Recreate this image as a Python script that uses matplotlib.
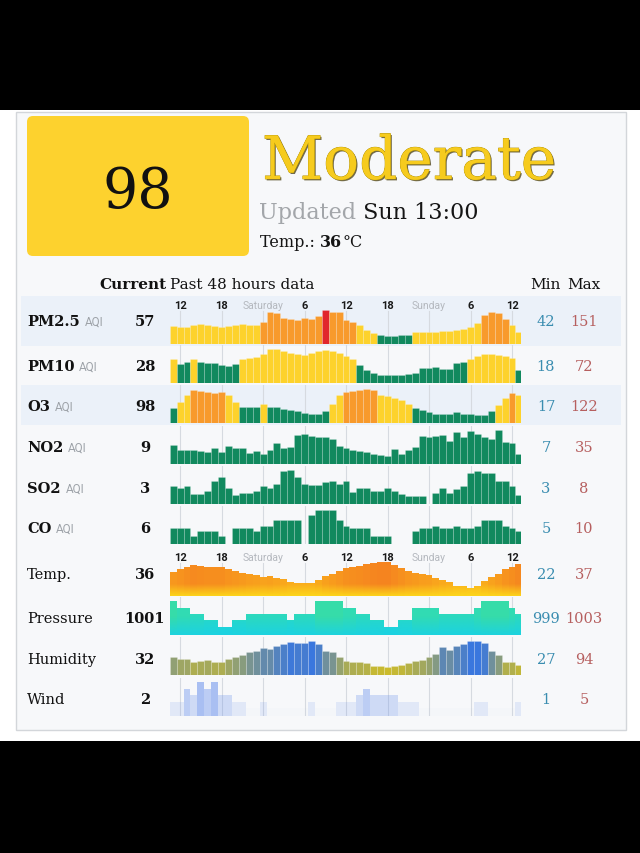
import numpy as np
import matplotlib
matplotlib.use('Agg')
import matplotlib.pyplot as plt
from matplotlib.patches import FancyBboxPatch, Rectangle
from matplotlib.path import Path
from matplotlib.colors import to_rgb
import matplotlib.patheffects as pe

# ---------------- data ----------------
HOURS = np.arange(-1, 50)          # hourly bars, hours relative to Friday 12:00
TICK_HOURS = [0, 6, 12, 18, 24, 30, 36, 42, 48]
TICK_LABELS = ['12', '18', 'Saturday', '6', '12', '18', 'Sunday', '6', '12']

ROW_NAMES = ['PM2.5', 'PM10', 'O3', 'NO2', 'SO2', 'CO', 'Temp.', 'Pressure', 'Humidity', 'Wind']
IS_AQI = [True, True, True, True, True, True, False, False, False, False]
CURRENT = ['57', '28', '98', '9', '3', '6', '36', '1001', '32', '2']
MINS = [42, 18, 17, 7, 3, 5, 22, 999, 27, 1]
MAXS = [151, 72, 122, 35, 8, 10, 37, 1003, 94, 5]

AQI_NOW = '98'
LEVEL = 'Moderate'
UPDATED = 'Sun 13:00'
TEMP_NOW = '36'

nan = np.nan
pm25 = [84, 78, 81, 88, 91, 88, 84, 81, 84, 88, 91, 88, 87, 102, 141, 137, 119, 112, 109, 116,
        113, 127, 151, 141, 141, 109, 102, 88, 67, 53, 45, 42, 42, 45, 46, 58, 60, 60, 60, 63,
        64, 67, 71, 81, 95, 130, 141, 137, 113, 88, 58]
pm10 = [52, 41, 46, 52, 46, 42, 42, 39, 37, 41, 52, 53, 55, 62, 72, 71, 67, 64, 62, 60,
        63, 68, 70, 67, 63, 58, 52, 39, 28, 22, 19, 18, 18, 19, 20, 23, 33, 33, 35, 30,
        30, 42, 44, 52, 58, 62, 62, 60, 58, 53, 28]
o3 = [46, 69, 97, 117, 114, 109, 106, 109, 97, 69, 49, 49, 49, 60, 50, 49, 43, 39, 32, 25,
      20, 20, 32, 63, 97, 110, 114, 119, 122, 117, 97, 93, 87, 76, 63, 46, 36, 29, 22, 20,
      22, 29, 22, 20, 17, 19, 33, 56, 87, 106, 98]
no2 = [19, 13, 14, 14, 12, 11, 16, 11, 18, 16, 16, 10, 12, 9, 13, 21, 16, 17, 30, 31,
       29, 28, 27, 25, 18, 16, 13, 12, 11, 9, 8, 7, 15, 9, 14, 17, 29, 27, 29, 30,
       23, 33, 27, 34, 31, 28, 25, 35, 22, 21, 9]
so2 = [5.0, 4.5, 5.0, 3.4, 3.4, 4.0, 5.9, 6.6, 4.5, 3.1, 3.5, 3.5, 4.0, 5.0, 4.5, 5.4, 7.9, 8.0, 6.6, 5.4,
       5.2, 5.2, 5.6, 5.9, 5.4, 5.9, 3.8, 4.5, 4.5, 3.9, 3.9, 4.5, 4.0, 3.4, 3.0, 3.0, 3.0, nan, 3.5, 4.5,
       3.5, 4.4, 5.0, 7.4, 7.9, 7.4, 7.4, 5.9, 5.9, 5.0, 3.2]
co = [6.5, 6.5, 6.5, 5, 6, 6, 6, 5, nan, 6.5, 6.5, 6.5, 6, 7, 7, 8, 8, 8, 8, nan,
      9, 10, 10, 10, 8, 7, 6.5, 6.5, 6.5, 5, 5, 5, nan, nan, nan, 6, 6.5, 6.5, 7, 6.5,
      6.5, 7, 6.5, 6.5, 7, 8, 8, 8, 7, 6.5, 6]
temp = [31.4, 32.8, 34.1, 35.3, 34.7, 34.1, 34.1, 34.1, 32.8, 31.8, 30.8, 29.9, 29.3, 28.3, 28.8, 27.9, 27.0, 25.6, 25.1, 25.1,
        25.1, 26.4, 28.9, 30.3, 31.8, 33.4, 34.1, 34.7, 35.7, 36.5, 37, 37, 35.3, 33.4, 31.8, 30.8, 29.9, 29.6, 27.9, 26.4,
        25.6, 23.3, 23.2, 22.2, 23.2, 26.0, 28.3, 30.3, 32.8, 34.1, 35.8]
pressure = [1003, 1002, 1002, 1001, 1001, 1000, 1000, 999, 999, 1000, 1000, 1001, 1001, 1001, 1001, 1001, 1001, 1000, 1001, 1001,
            1001, 1003, 1003, 1003, 1003, 1002, 1002, 1001, 1001, 1000, 1000, 999, 999, 1000, 1000, 1002, 1002, 1002, 1002, 1001,
            1001, 1001, 1001, 1001, 1002, 1003, 1003, 1003, 1003, 1002, 1001]
humidity = [54, 48, 48, 41, 43, 45, 41, 41, 48, 54, 58, 65, 69, 75, 74, 82, 86, 92, 89, 89,
            94, 86, 69, 65, 52, 43, 41, 39, 37, 30, 29, 27, 30, 32, 37, 43, 46, 52, 60, 78,
            72, 80, 86, 94, 94, 89, 69, 58, 39, 39, 32]
wind = [2, 2, 4, 3, 5, 4, 5, 3, 3, 2, 2, 1, 1, 2, 1, 1, 1, 1, 1, 1,
        2, 1, 1, 1, 2, 2, 2, 3, 4, 3, 3, 3, 3, 2, 2, 2, 1, 1, 1, 1,
        1, 1, 1, 1, 2, 2, 1, 1, 1, 1, 2]
SERIES = [pm25, pm10, o3, no2, so2, co, temp, pressure, humidity, wind]

# ---------------- layout / style ----------------
W, H = 640, 854
SERIF = 'DejaVu Serif'
SANS = ['Roboto', 'DejaVu Sans']
BASELINES = [345, 384, 424, 465, 505, 545, 597, 636, 676, 717]
LABEL_Y = [321, 366, 406, 447, 488, 528, 574, 618, 659, 699]
X0, X1 = 169, 521
XLIM = (-1.6, 49.3)
ROW_H = 38

fig = plt.figure(figsize=(W / 100, H / 100), dpi=100, facecolor='black')
base = fig.add_axes([0, 0, 1, 1])
base.set_xlim(0, W)
base.set_ylim(H, 0)
base.axis('off')
base.add_patch(Rectangle((0, 111), W, 631, fc='white', ec='none', zorder=0))
base.add_patch(Rectangle((16, 113), 610, 618, fc='#f7f8fa', ec='#d3d6da', lw=1, zorder=0.1))
for k in (0, 2):
    top = BASELINES[k] - (48 if k == 0 else 38)
    base.add_patch(Rectangle((21, top), 600, BASELINES[k] + 2 - top, fc='#ebf1f9', ec='none', zorder=0.2))

# header
base.add_patch(FancyBboxPatch((27, 117), 222, 140, boxstyle='round,pad=0,rounding_size=6',
                              fc='#fdd22e', ec='none', zorder=1))
base.text(138, 208, AQI_NOW, family=SERIF, fontsize=40, color='#111111', ha='center', va='baseline', zorder=2)
base.text(262, 180, LEVEL, family=SERIF, fontsize=43, color='#f6cb1e', ha='left', va='baseline', zorder=2,
          path_effects=[pe.withSimplePatchShadow(offset=(1.0, -1.0), shadow_rgbFace='#3b3000', alpha=0.7),
                        pe.Stroke(linewidth=0.5, foreground='#a88a00'), pe.Normal()])
t_up = base.text(259, 219, 'Updated', family=SERIF, fontsize=16, color='#a3a6aa', ha='left', va='baseline', zorder=2)
base.annotate(' ' + UPDATED, xy=(1, 0), xycoords=t_up, family=SERIF, fontsize=16, color='#151515',
              ha='left', va='bottom', zorder=2)
t_t = base.text(260, 247, 'Temp.: ', family=SERIF, fontsize=11.5, color='#151515', ha='left', va='baseline', zorder=2)
t_v = base.annotate(TEMP_NOW, xy=(1, 0), xycoords=t_t, family=SERIF, fontsize=11.5, weight='bold',
                    color='#151515', ha='left', va='bottom', zorder=2)
base.annotate('°C', xy=(1, 0), xycoords=t_v, family=SERIF, fontsize=11.5, color='#151515',
              ha='left', va='bottom', zorder=2)

# column headers
base.text(167, 284, 'Current', family=SERIF, fontsize=11, weight='bold', color='#111111',
          ha='right', va='center_baseline', zorder=2)
base.text(170, 284, 'Past 48 hours data', family=SERIF, fontsize=11, color='#111111',
          ha='left', va='center_baseline', zorder=2)
base.text(545, 284, 'Min', family=SERIF, fontsize=11, color='#111111', ha='center', va='center_baseline', zorder=2)
base.text(584, 284, 'Max', family=SERIF, fontsize=11, color='#111111', ha='center', va='center_baseline', zorder=2)


def aqi_color(v):
    if v <= 50:
        return '#11895e'
    if v <= 100:
        return '#fdd22c'
    if v <= 150:
        return '#f89a2c'
    return '#e1262d'


def mix(c1, c2, f):
    a, b = np.array(to_rgb(c1)), np.array(to_rgb(c2))
    return tuple(a + (b - a) * float(np.clip(f, 0, 1)))


def bottom_gradient(ax, bars, color, fade_frac, lo, hi, strength=0.9):
    paths = [b.get_path().transformed(b.get_patch_transform()) for b in bars]
    comp = Path.make_compound_path(*paths)
    n = 100
    img = np.zeros((n, 1, 4))
    img[..., :3] = to_rgb(color)
    yy = np.linspace(0, 1, n)
    img[:, 0, 3] = strength * np.clip(1 - yy / fade_frac, 0, 1)
    im = ax.imshow(img, extent=(XLIM[0], XLIM[1], lo, hi), origin='lower', aspect='auto',
                   interpolation='bilinear', zorder=3)
    im.set_clip_path(comp, ax.transData)
    ax.set_xlim(*XLIM)
    ax.set_ylim(lo, hi)


row_axes = []
for k, vals in enumerate(SERIES):
    b = BASELINES[k]
    ax = fig.add_axes([X0 / W, 1 - b / H, (X1 - X0) / W, ROW_H / H])
    ax.patch.set_alpha(0)
    ax.axis('off')
    vmin, vmax = MINS[k], MAXS[k]
    lo = vmin - (vmax - vmin) * 8 / 26
    hi = lo + (vmax - lo) * ROW_H / 34
    ax.set_xlim(*XLIM)
    ax.set_ylim(lo, hi)
    top_frac = 0.88 if k in (0, 6) else 1.0
    for t in TICK_HOURS:
        ax.axvline(t, ymax=top_frac, color='#d6dae0', lw=0.8, zorder=0.5)
    v = np.asarray(vals, float)
    m = ~np.isnan(v)
    x = HOURS[m]
    vv = v[m]
    f = (vv - vmin) / (vmax - vmin)
    name = ROW_NAMES[k]
    if IS_AQI[k]:
        cols = [aqi_color(q) for q in vv]
        bars = ax.bar(x, vv - lo, bottom=lo, width=1.0, color=cols, edgecolor=(1, 1, 1, 0.28),
                      linewidth=0.4, zorder=2)
    elif name == 'Temp.':
        cols = [mix('#fbb81b', '#f5841f', q) for q in f]
        bars = ax.bar(x, vv - lo, bottom=lo, width=1.0, color=cols, linewidth=0, zorder=2)
        bottom_gradient(ax, bars, '#fdd81b', 0.32, lo, hi, 0.95)
    elif name == 'Pressure':
        cols = [mix('#22d6d2', '#36dca9', q) for q in f]
        bars = ax.bar(x, vv - lo, bottom=lo, width=1.0, color=cols, linewidth=0, zorder=2)
        bottom_gradient(ax, bars, '#1bd2e4', 0.5, lo, hi, 0.9)
    elif name == 'Humidity':
        cols = [mix('#cbbb2c', '#3a77de', q) for q in f]
        bars = ax.bar(x, vv - lo, bottom=lo, width=1.0, color=cols, edgecolor=(1, 1, 1, 0.3),
                      linewidth=0.4, zorder=2)
    else:  # wind
        cols = [(*to_rgb('#6c93ec'), 0.02 + 0.135 * (q - 1)) for q in vv]
        bars = ax.bar(x, vv - lo, bottom=lo, width=1.0, color=cols, linewidth=0, zorder=2)
    row_axes.append(ax)

    # row texts
    y = LABEL_Y[k]
    lab = base.text(27, y, name, family=SERIF, fontsize=10.5, weight='bold' if IS_AQI[k] else 'normal',
                    color='#111111', ha='left', va='center_baseline', zorder=2)
    if IS_AQI[k]:
        base.annotate('AQI', xy=(1, 0), xycoords=lab, xytext=(3.5, 0.6), textcoords='offset points',
                      family=SANS, fontsize=8.5, color='#9ea3a9', ha='left', va='bottom', zorder=2)
    base.text(145, y, CURRENT[k], family=SERIF, fontsize=10.5, weight='bold', color='#111111',
              ha='center', va='center_baseline', zorder=2)
    base.text(546, y, str(MINS[k]), family=SERIF, fontsize=10.5, color='#3a8db0',
              ha='center', va='center_baseline', zorder=2)
    base.text(584, y, str(MAXS[k]), family=SERIF, fontsize=10.5, color='#b65f5f',
              ha='center', va='center_baseline', zorder=2)

# hour tick labels above PM2.5 and Temp rows
for k in (0, 6):
    ax = row_axes[k]
    for t, lab in zip(TICK_HOURS, TICK_LABELS):
        day = lab in ('Saturday', 'Sunday')
        ax.text(t, 1.06, lab, transform=ax.get_xaxis_transform(), family=SANS,
                fontsize=7.5 if day else 8, weight='normal' if day else 'bold',
                color='#b4b8be' if day else '#1a1a1a', ha='center', va='center_baseline', zorder=4)

fig.savefig('out.png', dpi=100, facecolor='black')
